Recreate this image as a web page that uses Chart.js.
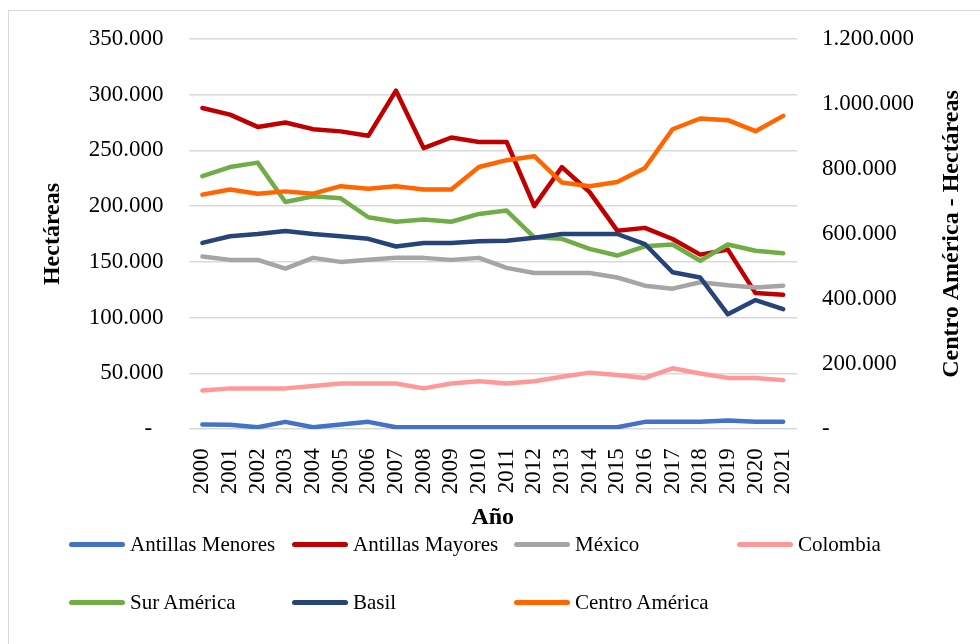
<!DOCTYPE html>
<html lang="es">
<head>
<meta charset="utf-8">
<script src="https://cdn.jsdelivr.net/npm/chart.js@4.4.1/dist/chart.umd.min.js"></script>
<style>
  html, body { margin: 0; padding: 0; background: #fff; }
  #wrap { position: relative; width: 980px; height: 644px; overflow: hidden; font-family: 'Liberation Serif', 'Times New Roman', serif; }
  #frame { position: absolute; left: 8px; top: 10px; width: 1000px; height: 700px; border: 1.5px solid #d9d9d9; box-sizing: border-box; }
  #chart { position: absolute; left: 0; top: 0; }
  .leg { position: absolute; height: 24px; display: flex; align-items: center; font-size: 21px; color: #000; white-space: nowrap; }
  .leg .sw { width: 56px; height: 5px; border-radius: 3px; margin-right: 5px; }
</style>
</head>
<body>
<div id="wrap">
  <div id="frame"></div>
  <canvas id="chart" width="980" height="644"></canvas>
  <div id="legend"></div>
</div>
<script>
// --- data ---
const years = ['2000','2001','2002','2003','2004','2005','2006','2007','2008','2009','2010',
               '2011','2012','2013','2014','2015','2016','2017','2018','2019','2020','2021'];

const antillasMenores = [4200, 4000, 1800, 6600, 1800, 4200, 6600, 1800, 1800, 1800, 1800,
                         1800, 1800, 1800, 1800, 1800, 6600, 6600, 6600, 7800, 6600, 6600];
const antillasMayores = [288000, 282000, 271000, 275000, 269000, 267000, 263000, 303500, 252000, 261500, 257500,
                         257500, 200000, 235000, 212500, 178000, 180500, 170500, 156500, 161000, 122000, 120500];
const mexico = [154800, 151800, 151800, 144000, 153600, 150000, 152000, 153600, 153600, 151800, 153600,
                144600, 140000, 140000, 140000, 136000, 128700, 126000, 131700, 129000, 127000, 128700];
const colombia = [34800, 36600, 36600, 36600, 38700, 41000, 41000, 41000, 36600, 41000, 43000,
                  41000, 43000, 47000, 50700, 48600, 46000, 54600, 50000, 46000, 46000, 44000];
const surAmerica = [226800, 235000, 239000, 203700, 208800, 207000, 190000, 186000, 188000, 186000, 193000,
                    196000, 172000, 170700, 161700, 155700, 164000, 165600, 151000, 165600, 160000, 157800];
const basil = [167000, 173000, 175000, 177600, 175000, 173000, 170700, 163800, 167000, 167000, 168600,
               169000, 171600, 175000, 175000, 175000, 166000, 140700, 136000, 103000, 115800, 107700];
// secondary axis
const centroAmerica = [721000, 737000, 724000, 731000, 724000, 747000, 739000, 746500, 737000, 737000, 806000,
                       827000, 839000, 758000, 746500, 760000, 803000, 922000, 955000, 950000, 916000, 963000];

const seriesNames = ['Antillas Menores', 'Antillas Mayores', 'México', 'Colombia', 'Sur América', 'Basil', 'Centro América'];
const seriesColors = ['#4472C4', '#C00000', '#A5A5A5', '#FF9999', '#70AD47', '#264478', '#FF6600'];
const seriesData = [antillasMenores, antillasMayores, mexico, colombia, surAmerica, basil, centroAmerica];

// thousands with a dot, zero shown as a dash (Excel accounting style)
function fmt(v) {
  if (v === 0) return null;
  return String(Math.round(v)).replace(/\B(?=(\d{3})+(?!\d))/g, '.');
}

const serif = "'Liberation Serif', 'Times New Roman', serif";

// right-axis title reads bottom-to-top like the left one
const rightTitle = {
  id: 'rightTitle',
  afterDraw(chart) {
    const { ctx, chartArea } = chart;
    ctx.save();
    ctx.translate(952, (chartArea.top + chartArea.bottom) / 2);
    ctx.rotate(-Math.PI / 2);
    ctx.font = 'bold 24px ' + serif;
    ctx.fillStyle = '#000';
    ctx.textAlign = 'center';
    ctx.textBaseline = 'middle';
    ctx.fillText('Centro América - Hectáreas', 0, 0);
    ctx.restore();
  }
};

const datasets = seriesData.map((d, i) => ({
  label: seriesNames[i],
  data: d,
  yAxisID: i === 6 ? 'y2' : 'y',
  borderColor: seriesColors[i],
  backgroundColor: seriesColors[i],
  borderWidth: 4.5,
  borderCapStyle: 'round',
  borderJoinStyle: 'round',
  pointRadius: 0,
  tension: 0,
  order: 7 - i
}));

Chart.defaults.font.family = serif;
Chart.defaults.color = '#000';

new Chart(document.getElementById('chart'), {
  type: 'line',
  data: { labels: years, datasets },
  options: {
    responsive: false,
    animation: false,
    devicePixelRatio: 1,
    layout: { padding: { left: 38, right: 41, top: 22, bottom: 112 } },
    plugins: { legend: { display: false }, tooltip: { enabled: false } },
    scales: {
      x: {
        offset: true,
        grid: { display: false },
        border: { display: false },
        ticks: { font: { size: 23 }, minRotation: 90, maxRotation: 90, padding: 11, autoSkip: false },
        title: { display: true, text: 'Año', font: { size: 24, weight: 'bold' }, padding: { top: -2, bottom: 0 } }
      },
      y: {
        position: 'left',
        min: 0, max: 350000,
        grid: { color: '#d9d9d9', lineWidth: 1.5, drawTicks: false },
        border: { display: false },
        ticks: {
          stepSize: 50000, padding: 25, font: { size: 23 },
          callback: v => fmt(v) || '-  '
        },
        title: { display: true, text: 'Hectáreas', font: { size: 24, weight: 'bold' }, padding: { top: 0, bottom: -3 } }
      },
      y2: {
        position: 'right',
        min: 0, max: 1200000,
        grid: { display: false, drawTicks: false },
        border: { display: false },
        ticks: {
          stepSize: 200000, padding: 25, font: { size: 23 },
          callback: v => fmt(v) || '-'
        }
      }
    }
  },
  plugins: [rightTitle]
});

// legend laid out in Excel's fixed columns
const legCols = [69, 292, 514, 737];
const legRows = [544, 602];
const legendEl = document.getElementById('legend');
seriesNames.forEach((name, i) => {
  const item = document.createElement('div');
  item.className = 'leg';
  item.style.left = legCols[i % 4] + 'px';
  item.style.top = (legRows[Math.floor(i / 4)] - 12) + 'px';
  item.innerHTML = `<div class="sw" style="background:${seriesColors[i]}"></div><span>${name}</span>`;
  legendEl.appendChild(item);
});
</script>
</body>
</html>
